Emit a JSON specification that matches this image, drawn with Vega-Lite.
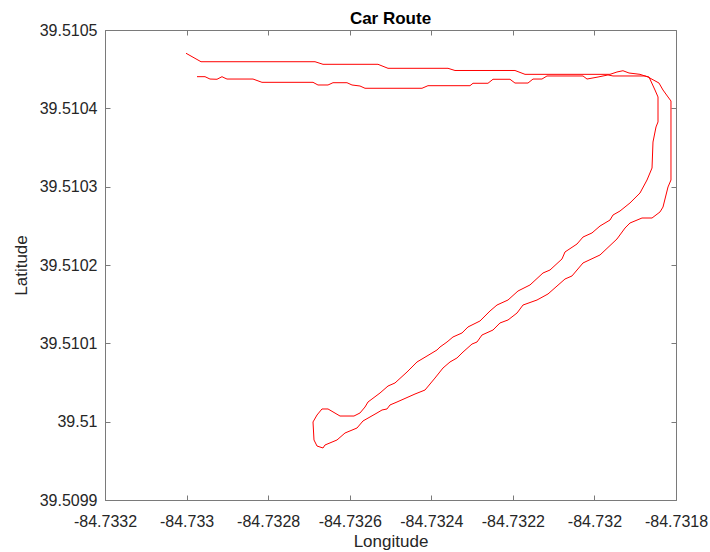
{
  "$schema": "https://vega.github.io/schema/vega-lite/v6.json",
  "autosize": "none",
  "width": 571,
  "height": 470,
  "padding": {"left": 105, "top": 30, "right": 34, "bottom": 52},
  "background": "white",
  "config": {
    "font": "Liberation Sans",
    "view": {"stroke": "#7a7a7a", "strokeWidth": 1},
    "axis": {"grid": false, "domainColor": "#7a7a7a", "tickColor": "#7a7a7a", "labelColor": "#262626", "titleColor": "#262626", "labelFont": "Liberation Sans", "titleFont": "Liberation Sans", "labelFontSize": 16, "titleFontSize": 17, "titleFontWeight": "normal", "tickSize": -5, "domainWidth": 1, "tickWidth": 1}
  },
  "title": {"text": "Car Route", "fontSize": 17, "fontWeight": "bold", "color": "#000000", "font": "Liberation Sans", "offset": -6},
  "data": {"values": [
    {"i":1,"lon":-84.7330014,"lat":39.5104703},
    {"i":2,"lon":-84.7329646,"lat":39.5104595},
    {"i":3,"lon":-84.7326851,"lat":39.5104595},
    {"i":4,"lon":-84.7326655,"lat":39.5104562},
    {"i":5,"lon":-84.7325307,"lat":39.5104562},
    {"i":6,"lon":-84.7325061,"lat":39.5104511},
    {"i":7,"lon":-84.7323590,"lat":39.5104511},
    {"i":8,"lon":-84.7323419,"lat":39.5104483},
    {"i":9,"lon":-84.7321948,"lat":39.5104483},
    {"i":10,"lon":-84.7321702,"lat":39.5104434},
    {"i":11,"lon":-84.7319618,"lat":39.5104434},
    {"i":12,"lon":-84.7319447,"lat":39.5104464},
    {"i":13,"lon":-84.7319300,"lat":39.5104480},
    {"i":14,"lon":-84.7319152,"lat":39.5104451},
    {"i":15,"lon":-84.7318883,"lat":39.5104434},
    {"i":16,"lon":-84.7318687,"lat":39.5104400},
    {"i":17,"lon":-84.7318417,"lat":39.5104323},
    {"i":18,"lon":-84.7318319,"lat":39.5104234},
    {"i":19,"lon":-84.7318196,"lat":39.5104145},
    {"i":20,"lon":-84.7318123,"lat":39.5104094},
    {"i":21,"lon":-84.7318123,"lat":39.5103085},
    {"i":22,"lon":-84.7318196,"lat":39.5102996},
    {"i":23,"lon":-84.7318319,"lat":39.5102740},
    {"i":24,"lon":-84.7318392,"lat":39.5102677},
    {"i":25,"lon":-84.7318588,"lat":39.5102600},
    {"i":26,"lon":-84.7318834,"lat":39.5102600},
    {"i":27,"lon":-84.7319128,"lat":39.5102536},
    {"i":28,"lon":-84.7319250,"lat":39.5102472},
    {"i":29,"lon":-84.7319447,"lat":39.5102332},
    {"i":30,"lon":-84.7319863,"lat":39.5102128},
    {"i":31,"lon":-84.7320280,"lat":39.5102026},
    {"i":32,"lon":-84.7320550,"lat":39.5101860},
    {"i":33,"lon":-84.7320722,"lat":39.5101821},
    {"i":34,"lon":-84.7321138,"lat":39.5101630},
    {"i":35,"lon":-84.7321408,"lat":39.5101553},
    {"i":36,"lon":-84.7321751,"lat":39.5101489},
    {"i":37,"lon":-84.7321898,"lat":39.5101387},
    {"i":38,"lon":-84.7322119,"lat":39.5101298},
    {"i":39,"lon":-84.7322315,"lat":39.5101260},
    {"i":40,"lon":-84.7322487,"lat":39.5101170},
    {"i":41,"lon":-84.7322757,"lat":39.5101106},
    {"i":42,"lon":-84.7322879,"lat":39.5101017},
    {"i":43,"lon":-84.7323002,"lat":39.5100991},
    {"i":44,"lon":-84.7323222,"lat":39.5100889},
    {"i":45,"lon":-84.7323370,"lat":39.5100813},
    {"i":46,"lon":-84.7323541,"lat":39.5100762},
    {"i":47,"lon":-84.7323713,"lat":39.5100685},
    {"i":48,"lon":-84.7323909,"lat":39.5100557},
    {"i":49,"lon":-84.7324154,"lat":39.5100404},
    {"i":50,"lon":-84.7324399,"lat":39.5100353},
    {"i":51,"lon":-84.7324841,"lat":39.5100251},
    {"i":52,"lon":-84.7325012,"lat":39.5100213},
    {"i":53,"lon":-84.7325086,"lat":39.5100162},
    {"i":54,"lon":-84.7325208,"lat":39.5100149},
    {"i":55,"lon":-84.7325331,"lat":39.5100111},
    {"i":56,"lon":-84.7325674,"lat":39.5100009},
    {"i":57,"lon":-84.7325821,"lat":39.5099919},
    {"i":58,"lon":-84.7326116,"lat":39.5099855},
    {"i":59,"lon":-84.7326312,"lat":39.5099766},
    {"i":60,"lon":-84.7326606,"lat":39.5099702},
    {"i":61,"lon":-84.7326655,"lat":39.5099664},
    {"i":62,"lon":-84.7326802,"lat":39.5099689},
    {"i":63,"lon":-84.7326876,"lat":39.5099766},
    {"i":64,"lon":-84.7326900,"lat":39.5099996},
    {"i":65,"lon":-84.7326802,"lat":39.5100085},
    {"i":66,"lon":-84.7326680,"lat":39.5100162},
    {"i":67,"lon":-84.7326532,"lat":39.5100162},
    {"i":68,"lon":-84.7326238,"lat":39.5100072},
    {"i":69,"lon":-84.7325895,"lat":39.5100072},
    {"i":70,"lon":-84.7325748,"lat":39.5100111},
    {"i":71,"lon":-84.7325625,"lat":39.5100187},
    {"i":72,"lon":-84.7325552,"lat":39.5100251},
    {"i":73,"lon":-84.7325454,"lat":39.5100289},
    {"i":74,"lon":-84.7325257,"lat":39.5100366},
    {"i":75,"lon":-84.7325061,"lat":39.5100455},
    {"i":76,"lon":-84.7324890,"lat":39.5100494},
    {"i":77,"lon":-84.7324595,"lat":39.5100634},
    {"i":78,"lon":-84.7324350,"lat":39.5100762},
    {"i":79,"lon":-84.7324105,"lat":39.5100838},
    {"i":80,"lon":-84.7323860,"lat":39.5100915},
    {"i":81,"lon":-84.7323786,"lat":39.5100953},
    {"i":82,"lon":-84.7323615,"lat":39.5101017},
    {"i":83,"lon":-84.7323468,"lat":39.5101081},
    {"i":84,"lon":-84.7323247,"lat":39.5101132},
    {"i":85,"lon":-84.7323100,"lat":39.5101209},
    {"i":86,"lon":-84.7322806,"lat":39.5101285},
    {"i":87,"lon":-84.7322560,"lat":39.5101413},
    {"i":88,"lon":-84.7322389,"lat":39.5101489},
    {"i":89,"lon":-84.7322119,"lat":39.5101553},
    {"i":90,"lon":-84.7321874,"lat":39.5101668},
    {"i":91,"lon":-84.7321580,"lat":39.5101745},
    {"i":92,"lon":-84.7321261,"lat":39.5101898},
    {"i":93,"lon":-84.7321089,"lat":39.5101936},
    {"i":94,"lon":-84.7320795,"lat":39.5102077},
    {"i":95,"lon":-84.7320722,"lat":39.5102166},
    {"i":96,"lon":-84.7320427,"lat":39.5102268},
    {"i":97,"lon":-84.7320280,"lat":39.5102357},
    {"i":98,"lon":-84.7320060,"lat":39.5102409},
    {"i":99,"lon":-84.7319863,"lat":39.5102498},
    {"i":100,"lon":-84.7319618,"lat":39.5102574},
    {"i":101,"lon":-84.7319545,"lat":39.5102638},
    {"i":102,"lon":-84.7319373,"lat":39.5102689},
    {"i":103,"lon":-84.7319128,"lat":39.5102792},
    {"i":104,"lon":-84.7318883,"lat":39.5102919},
    {"i":105,"lon":-84.7318711,"lat":39.5103085},
    {"i":106,"lon":-84.7318588,"lat":39.5103238},
    {"i":107,"lon":-84.7318564,"lat":39.5103570},
    {"i":108,"lon":-84.7318490,"lat":39.5103762},
    {"i":109,"lon":-84.7318441,"lat":39.5103826},
    {"i":110,"lon":-84.7318441,"lat":39.5104145},
    {"i":111,"lon":-84.7318515,"lat":39.5104234},
    {"i":112,"lon":-84.7318662,"lat":39.5104400},
    {"i":113,"lon":-84.7318760,"lat":39.5104413},
    {"i":114,"lon":-84.7319545,"lat":39.5104413},
    {"i":115,"lon":-84.7319667,"lat":39.5104426},
    {"i":116,"lon":-84.7319912,"lat":39.5104400},
    {"i":117,"lon":-84.7320182,"lat":39.5104374},
    {"i":118,"lon":-84.7320280,"lat":39.5104413},
    {"i":119,"lon":-84.7321163,"lat":39.5104413},
    {"i":120,"lon":-84.7321286,"lat":39.5104374},
    {"i":121,"lon":-84.7321506,"lat":39.5104374},
    {"i":122,"lon":-84.7321629,"lat":39.5104323},
    {"i":123,"lon":-84.7321948,"lat":39.5104323},
    {"i":124,"lon":-84.7322070,"lat":39.5104371},
    {"i":125,"lon":-84.7322487,"lat":39.5104371},
    {"i":126,"lon":-84.7322610,"lat":39.5104320},
    {"i":127,"lon":-84.7322977,"lat":39.5104320},
    {"i":128,"lon":-84.7323051,"lat":39.5104289},
    {"i":129,"lon":-84.7324081,"lat":39.5104289},
    {"i":130,"lon":-84.7324228,"lat":39.5104256},
    {"i":131,"lon":-84.7325625,"lat":39.5104256},
    {"i":132,"lon":-84.7325748,"lat":39.5104285},
    {"i":133,"lon":-84.7325944,"lat":39.5104298},
    {"i":134,"lon":-84.7326067,"lat":39.5104327},
    {"i":135,"lon":-84.7326410,"lat":39.5104327},
    {"i":136,"lon":-84.7326532,"lat":39.5104298},
    {"i":137,"lon":-84.7326778,"lat":39.5104298},
    {"i":138,"lon":-84.7326900,"lat":39.5104332},
    {"i":139,"lon":-84.7328151,"lat":39.5104332},
    {"i":140,"lon":-84.7328371,"lat":39.5104374},
    {"i":141,"lon":-84.7329009,"lat":39.5104374},
    {"i":142,"lon":-84.7329082,"lat":39.5104391},
    {"i":143,"lon":-84.7329131,"lat":39.5104404},
    {"i":144,"lon":-84.7329254,"lat":39.5104371},
    {"i":145,"lon":-84.7329426,"lat":39.5104374},
    {"i":146,"lon":-84.7329548,"lat":39.5104404},
    {"i":147,"lon":-84.7329744,"lat":39.5104404}
  ]},
  "layer": [
    {
      "mark": {"type": "line", "color": "#ff0000", "strokeWidth": 1, "clip": true},
      "encoding": {
        "x": {"field": "lon", "type": "quantitative", "scale": {"domain": [-84.7332, -84.7318], "nice": false, "zero": false},
              "axis": {"orient": "bottom", "title": "Longitude", "values": [-84.7332, -84.733, -84.7328, -84.7326, -84.7324, -84.7322, -84.732, -84.7318], "format": ".4~f", "labelExpr": "replace(datum.label, '\u2212', '-')", "labelPadding": 18, "titlePadding": 4, "labelFlush": false}},
        "y": {"field": "lat", "type": "quantitative", "scale": {"domain": [39.5099, 39.5105], "nice": false, "zero": false},
              "axis": {"orient": "left", "title": "Latitude", "values": [39.5099, 39.51, 39.5101, 39.5102, 39.5103, 39.5104, 39.5105], "format": ".4~f", "labelPadding": 13, "titlePadding": 9, "labelFlush": false}},
        "order": {"field": "i", "type": "quantitative"}
      }
    },
    {
      "mark": {"type": "line", "opacity": 0},
      "encoding": {
        "x": {"field": "lon", "type": "quantitative", "scale": {"domain": [-84.7332, -84.7318], "nice": false, "zero": false},
              "axis": {"orient": "top", "title": null, "labels": false, "domain": false, "values": [-84.7332, -84.733, -84.7328, -84.7326, -84.7324, -84.7322, -84.732, -84.7318]}},
        "y": {"field": "lat", "type": "quantitative", "scale": {"domain": [39.5099, 39.5105], "nice": false, "zero": false},
              "axis": {"orient": "right", "title": null, "labels": false, "domain": false, "values": [39.5099, 39.51, 39.5101, 39.5102, 39.5103, 39.5104, 39.5105]}},
        "order": {"field": "i", "type": "quantitative"}
      }
    }
  ],
  "resolve": {"scale": {"x": "independent", "y": "independent"}, "axis": {"x": "independent", "y": "independent"}}
}
